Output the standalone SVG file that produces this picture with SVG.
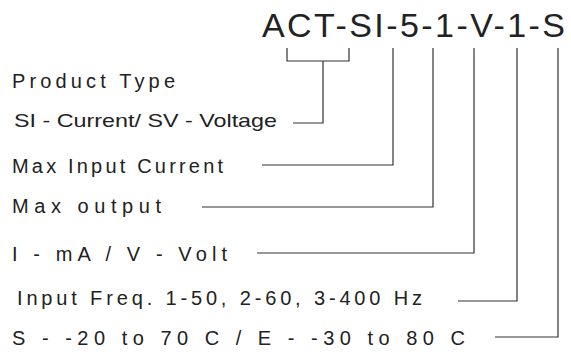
<svg xmlns="http://www.w3.org/2000/svg" width="571" height="354" viewBox="0 0 571 354">
<style>
text{font-family:"Liberation Sans","DejaVu Sans",sans-serif;fill:#222;font-weight:normal}
.t{font-size:20px}
.c{stroke:#333;stroke-width:1.2;fill:none}
</style>
<rect width="571" height="354" fill="#fff"/>
<g id="title"><text x="262" y="37" style="font-size:34px" textLength="303" lengthAdjust="spacing">ACT-SI-5-1-V-1-S</text></g>
<g id="product-type"><text class="t" x="12" y="88" textLength="163" lengthAdjust="spacing">Product Type</text></g>
<g id="si-sv"><text x="14" y="127" style="font-size:19px" textLength="263" lengthAdjust="spacingAndGlyphs">SI - Current/ SV - Voltage</text></g>
<g id="max-input"><text class="t" x="12" y="173" textLength="211" lengthAdjust="spacing">Max Input Current</text></g>
<g id="max-output"><text class="t" x="12" y="213" textLength="149" lengthAdjust="spacing">Max output</text></g>
<g id="ma-volt"><text class="t" x="12" y="261" textLength="215" lengthAdjust="spacing">I - mA / V - Volt</text></g>
<g id="freq"><text class="t" x="17" y="305" textLength="405" lengthAdjust="spacing">Input Freq. 1-50, 2-60, 3-400 Hz</text></g>
<g id="temp"><text class="t" x="12" y="345" textLength="453" lengthAdjust="spacing">S - -20 to 70 C / E - -30 to 80 C</text></g>
<g id="connectors">
<path class="c" d="M287 48V61H349V48M323 61V123H293"/>
<path class="c" d="M393 48V165H262"/>
<path class="c" d="M433 48V207H202"/>
<path class="c" d="M474 48V253H257"/>
<path class="c" d="M517 48V301H458"/>
<path class="c" d="M558 48V337H495"/>
</g>
</svg>
